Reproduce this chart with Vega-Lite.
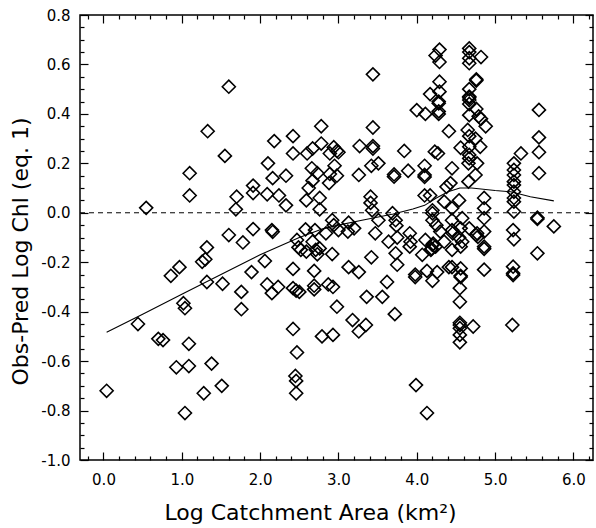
{
  "$schema": "https://vega.github.io/schema/vega-lite/v6.json",
  "width": 513,
  "height": 445,
  "autosize": "none",
  "padding": {"left": 80, "top": 15, "right": 3, "bottom": 68},
  "background": "white",
  "config": {"view": {"stroke": "black", "strokeWidth": 1.5}, "font": "DejaVu Sans"},
  "datasets": {
    "pts": [
      {"x":0.04,"y":-0.72},{"x":0.44,"y":-0.45},{"x":0.545,"y":0.02},{"x":0.70,"y":-0.51},{"x":0.76,"y":-0.515},
      {"x":0.86,"y":-0.255},{"x":0.93,"y":-0.625},{"x":0.97,"y":-0.22},{"x":1.02,"y":-0.366},{"x":1.04,"y":-0.386},
      {"x":1.04,"y":-0.81},{"x":1.09,"y":-0.53},{"x":1.09,"y":-0.62},{"x":1.10,"y":0.16},{"x":1.10,"y":0.07},
      {"x":1.26,"y":-0.198},{"x":1.30,"y":-0.188},{"x":1.32,"y":-0.28},{"x":1.32,"y":-0.14},{"x":1.28,"y":-0.73},
      {"x":1.33,"y":0.33},{"x":1.38,"y":-0.61},{"x":1.51,"y":-0.70},{"x":1.52,"y":-0.287},{"x":1.55,"y":0.23},
      {"x":1.60,"y":0.51},{"x":1.60,"y":-0.09},{"x":1.70,"y":0.065},{"x":1.69,"y":0.014},{"x":1.76,"y":-0.32},
      {"x":1.76,"y":-0.39},{"x":1.78,"y":-0.12},{"x":1.89,"y":-0.24},{"x":1.91,"y":0.11},{"x":1.91,"y":0.08},
      {"x":1.91,"y":-0.066},{"x":2.06,"y":-0.195},{"x":2.09,"y":-0.29},{"x":2.09,"y":0.075},{"x":2.10,"y":0.20},
      {"x":2.15,"y":-0.325},{"x":2.15,"y":-0.07},{"x":2.16,"y":-0.077},{"x":2.16,"y":0.14},{"x":2.18,"y":0.29},
      {"x":2.23,"y":-0.30},{"x":2.24,"y":0.07},{"x":2.33,"y":0.15},{"x":2.33,"y":0.03},{"x":2.42,"y":0.31},
      {"x":2.42,"y":0.24},{"x":2.42,"y":-0.227},{"x":2.42,"y":-0.305},{"x":2.46,"y":-0.315},{"x":2.50,"y":-0.32},
      {"x":2.42,"y":-0.47},{"x":2.47,"y":-0.565},{"x":2.45,"y":-0.66},{"x":2.46,"y":-0.68},{"x":2.46,"y":-0.73},
      {"x":2.47,"y":-0.11},{"x":2.49,"y":-0.14},{"x":2.52,"y":-0.15},{"x":2.59,"y":-0.157},{"x":2.58,"y":-0.067},
      {"x":2.59,"y":0.05},{"x":2.60,"y":0.24},{"x":2.62,"y":0.10},{"x":2.66,"y":0.18},{"x":2.67,"y":0.26},
      {"x":2.67,"y":0.13},{"x":2.67,"y":-0.117},{"x":2.69,"y":-0.235},{"x":2.69,"y":-0.295},{"x":2.69,"y":-0.31},
      {"x":2.70,"y":-0.07},{"x":2.71,"y":-0.15},{"x":2.73,"y":-0.168},{"x":2.73,"y":0.16},{"x":2.76,"y":0.06},
      {"x":2.76,"y":0.014},{"x":2.76,"y":-0.144},{"x":2.78,"y":0.35},{"x":2.78,"y":0.28},{"x":2.79,"y":-0.50},
      {"x":2.84,"y":-0.083},{"x":2.87,"y":-0.29},{"x":2.88,"y":0.12},{"x":2.89,"y":0.24},{"x":2.89,"y":0.157},
      {"x":2.92,"y":-0.03},{"x":2.92,"y":-0.167},{"x":2.93,"y":-0.30},{"x":2.93,"y":-0.494},{"x":2.94,"y":0.265},
      {"x":2.94,"y":-0.05},{"x":2.95,"y":0.19},{"x":2.98,"y":0.25},{"x":2.98,"y":0.15},{"x":2.98,"y":-0.38},
      {"x":3.00,"y":0.245},{"x":3.00,"y":-0.07},{"x":3.12,"y":-0.076},{"x":3.13,"y":-0.22},{"x":3.13,"y":-0.04},
      {"x":3.18,"y":-0.434},{"x":3.20,"y":-0.063},{"x":3.26,"y":0.153},{"x":3.26,"y":-0.24},{"x":3.26,"y":-0.48},
      {"x":3.27,"y":0.27},{"x":3.35,"y":-0.454},{"x":3.36,"y":-0.34},{"x":3.41,"y":0.065},{"x":3.41,"y":0.04},
      {"x":3.42,"y":0.19},{"x":3.42,"y":-0.18},{"x":3.43,"y":0.01},{"x":3.44,"y":0.56},{"x":3.44,"y":0.345},
      {"x":3.44,"y":0.27},{"x":3.44,"y":0.26},{"x":3.47,"y":-0.083},{"x":3.51,"y":0.20},{"x":3.51,"y":-0.03},
      {"x":3.56,"y":-0.34},{"x":3.62,"y":-0.28},{"x":3.64,"y":-0.117},{"x":3.69,"y":-0.002},{"x":3.71,"y":0.155},
      {"x":3.71,"y":0.146},{"x":3.72,"y":-0.41},{"x":3.73,"y":-0.03},{"x":3.73,"y":-0.164},{"x":3.74,"y":-0.052},
      {"x":3.75,"y":-0.10},{"x":3.75,"y":-0.21},{"x":3.84,"y":0.25},{"x":3.89,"y":0.17},{"x":3.91,"y":-0.137},
      {"x":3.92,"y":-0.117},{"x":3.91,"y":-0.083},{"x":3.98,"y":-0.26},{"x":3.98,"y":-0.25},{"x":3.99,"y":-0.697},
      {"x":4.00,"y":0.415},{"x":4.07,"y":-0.17},{"x":4.10,"y":0.19},{"x":4.10,"y":0.153},{"x":4.10,"y":0.145},
      {"x":4.10,"y":0.07},{"x":4.11,"y":0.40},{"x":4.11,"y":-0.11},{"x":4.13,"y":-0.235},{"x":4.13,"y":-0.81},
      {"x":4.17,"y":0.48},{"x":4.17,"y":0.07},{"x":4.18,"y":-0.15},{"x":4.19,"y":-0.145},{"x":4.20,"y":0.01},
      {"x":4.20,"y":-0.002},{"x":4.20,"y":-0.03},{"x":4.20,"y":-0.13},{"x":4.21,"y":-0.125},{"x":4.20,"y":-0.275},
      {"x":4.23,"y":0.247},{"x":4.24,"y":0.636},{"x":4.24,"y":-0.137},{"x":4.25,"y":-0.05},{"x":4.26,"y":-0.24},
      {"x":4.27,"y":0.24},{"x":4.28,"y":0.45},{"x":4.28,"y":0.443},{"x":4.28,"y":0.41},{"x":4.28,"y":0.40},
      {"x":4.29,"y":0.66},{"x":4.29,"y":0.61},{"x":4.29,"y":0.53},{"x":4.29,"y":0.49},{"x":4.30,"y":-0.076},
      {"x":4.35,"y":0.045},{"x":4.35,"y":-0.117},{"x":4.38,"y":0.105},{"x":4.41,"y":0.33},{"x":4.41,"y":-0.22},
      {"x":4.43,"y":0.12},{"x":4.45,"y":0.18},{"x":4.45,"y":0.018},{"x":4.45,"y":-0.03},{"x":4.45,"y":-0.07},
      {"x":4.46,"y":-0.083},{"x":4.45,"y":-0.15},{"x":4.45,"y":-0.22},{"x":4.54,"y":0.05},{"x":4.54,"y":-0.10},
      {"x":4.56,"y":0.263},{"x":4.56,"y":-0.063},{"x":4.56,"y":-0.137},{"x":4.56,"y":-0.225},{"x":4.56,"y":-0.26},
      {"x":4.56,"y":-0.255},{"x":4.55,"y":-0.305},{"x":4.55,"y":-0.36},{"x":4.55,"y":-0.454},{"x":4.55,"y":-0.445},
      {"x":4.55,"y":-0.467},{"x":4.55,"y":-0.494},{"x":4.55,"y":-0.524},{"x":4.58,"y":-0.022},{"x":4.58,"y":-0.117},
      {"x":4.67,"y":0.665},{"x":4.67,"y":0.65},{"x":4.67,"y":0.625},{"x":4.67,"y":0.605},{"x":4.67,"y":0.50},
      {"x":4.67,"y":0.47},{"x":4.67,"y":0.465},{"x":4.67,"y":0.456},{"x":4.67,"y":0.44},{"x":4.67,"y":0.395},
      {"x":4.65,"y":0.335},{"x":4.67,"y":0.31},{"x":4.67,"y":0.267},{"x":4.67,"y":0.234},{"x":4.67,"y":0.22},
      {"x":4.66,"y":0.20},{"x":4.66,"y":0.126},{"x":4.67,"y":-0.063},{"x":4.72,"y":-0.46},{"x":4.75,"y":0.30},
      {"x":4.75,"y":0.153},{"x":4.76,"y":0.54},{"x":4.76,"y":0.535},{"x":4.76,"y":0.42},{"x":4.77,"y":0.20},
      {"x":4.77,"y":-0.083},{"x":4.78,"y":-0.097},{"x":4.76,"y":-0.09},{"x":4.79,"y":0.39},{"x":4.81,"y":0.267},
      {"x":4.82,"y":0.63},{"x":4.82,"y":0.38},{"x":4.86,"y":0.06},{"x":4.86,"y":0.018},{"x":4.86,"y":-0.022},
      {"x":4.86,"y":-0.076},{"x":4.86,"y":-0.137},{"x":4.86,"y":-0.146},{"x":4.86,"y":-0.23},{"x":4.88,"y":0.35},
      {"x":5.22,"y":-0.454},{"x":5.23,"y":-0.218},{"x":5.23,"y":-0.245},{"x":5.23,"y":-0.252},{"x":5.23,"y":-0.07},
      {"x":5.24,"y":-0.107},{"x":5.24,"y":0.20},{"x":5.24,"y":0.173},{"x":5.24,"y":0.153},{"x":5.24,"y":0.126},
      {"x":5.24,"y":0.112},{"x":5.24,"y":0.085},{"x":5.24,"y":0.06},{"x":5.24,"y":0.045},{"x":5.24,"y":0.005},
      {"x":5.33,"y":0.24},{"x":5.56,"y":0.416},{"x":5.56,"y":0.305},{"x":5.56,"y":0.245},{"x":5.56,"y":0.16},
      {"x":5.54,"y":-0.02},{"x":5.54,"y":-0.025},{"x":5.54,"y":-0.164},{"x":5.75,"y":-0.055}
    ],
    "fit": [
      {"x":0.04,"y":-0.483},{"x":0.5,"y":-0.41},{"x":1.0,"y":-0.33},{"x":1.5,"y":-0.25},{"x":2.0,"y":-0.17},
      {"x":2.5,"y":-0.10},{"x":2.8,"y":-0.065},{"x":3.0,"y":-0.05},{"x":3.3,"y":-0.03},{"x":3.7,"y":-0.005},
      {"x":3.95,"y":0.015},{"x":4.1,"y":0.03},{"x":4.25,"y":0.06},{"x":4.4,"y":0.085},{"x":4.55,"y":0.10},
      {"x":4.7,"y":0.10},{"x":5.0,"y":0.09},{"x":5.2,"y":0.085},{"x":5.45,"y":0.065},{"x":5.75,"y":0.048}
    ],
    "zero": [{"x":-0.3,"y":0},{"x":6.25,"y":0}]
  },
  "resolve": {"axis": {"x": "independent", "y": "independent"}},
  "layer": [
    {
      "data": {"name": "pts"},
      "mark": {"type": "point", "shape": "diamond", "filled": false, "stroke": "black", "strokeWidth": 1.6, "size": 170, "opacity": 1},
      "encoding": {
        "x": {"field": "x", "type": "quantitative",
          "scale": {"domain": [-0.3, 6.25], "nice": false, "zero": false},
          "axis": {"orient": "bottom", "grid": false, "domain": false,
            "values": [-0.2,0,0.2,0.4,0.6,0.8,1,1.2,1.4,1.6,1.8,2,2.2,2.4,2.6,2.8,3,3.2,3.4,3.6,3.8,4,4.2,4.4,4.6,4.8,5,5.2,5.4,5.6,5.8,6,6.2],
            "labelExpr": "abs(datum.value - round(datum.value)) < 0.01 ? replace(format(datum.value, '.1f'), '−', '-') : ''",
            "tickSize": {"condition": {"test": "abs(datum.value - round(datum.value)) < 0.01", "value": -8}, "value": -4},
            "tickColor": "black", "tickWidth": 1.2,
            "labelFont": "DejaVu Sans", "labelFontSize": 15, "labelColor": "black", "labelPadding": 20, "labelFlush": false, "labelOverlap": false,
            "title": "Log Catchment Area (km²)", "titleFont": "DejaVu Sans", "titleFontSize": 22, "titleFontWeight": "normal", "titleColor": "black",
            "titleX": 230, "titleY": 59, "titleAlign": "center", "titleBaseline": "alphabetic"}},
        "y": {"field": "y", "type": "quantitative",
          "scale": {"domain": [-1.0, 0.8], "nice": false, "zero": false},
          "axis": {"orient": "left", "grid": false, "domain": false,
            "values": [-1,-0.95,-0.9,-0.85,-0.8,-0.75,-0.7,-0.65,-0.6,-0.55,-0.5,-0.45,-0.4,-0.35,-0.3,-0.25,-0.2,-0.15,-0.1,-0.05,0,0.05,0.1,0.15,0.2,0.25,0.3,0.35,0.4,0.45,0.5,0.55,0.6,0.65,0.7,0.75,0.8],
            "labelExpr": "abs(datum.value*5 - round(datum.value*5)) < 0.01 ? replace(format(datum.value, '.1f'), '−', '-') : ''",
            "tickSize": {"condition": {"test": "abs(datum.value*5 - round(datum.value*5)) < 0.01", "value": -8}, "value": -4},
            "tickColor": "black", "tickWidth": 1.2,
            "labelFont": "DejaVu Sans", "labelFontSize": 15, "labelColor": "black", "labelPadding": 18, "labelFlush": false, "labelOverlap": false,
            "title": "Obs-Pred Log Chl (eq. 1)", "titleFont": "DejaVu Sans", "titleFontSize": 22, "titleFontWeight": "normal", "titleColor": "black",
            "titleAngle": -90, "titleX": -53, "titleY": 236, "titleAlign": "center", "titleBaseline": "alphabetic"}}
      }
    },
    {
      "data": {"name": "fit"},
      "mark": {"type": "line", "color": "black", "strokeWidth": 1.1},
      "encoding": {
        "x": {"field": "x", "type": "quantitative", "axis": null},
        "y": {"field": "y", "type": "quantitative", "axis": null}
      }
    },
    {
      "data": {"name": "zero"},
      "mark": {"type": "line", "color": "black", "strokeWidth": 1, "strokeDash": [5, 4]},
      "encoding": {
        "x": {"field": "x", "type": "quantitative",
          "axis": {"orient": "top", "grid": false, "domain": false, "labels": false, "title": null,
            "values": [-0.2,0,0.2,0.4,0.6,0.8,1,1.2,1.4,1.6,1.8,2,2.2,2.4,2.6,2.8,3,3.2,3.4,3.6,3.8,4,4.2,4.4,4.6,4.8,5,5.2,5.4,5.6,5.8,6,6.2],
            "tickSize": {"condition": {"test": "abs(datum.value - round(datum.value)) < 0.01", "value": -8}, "value": -4},
            "tickColor": "black", "tickWidth": 1.2}},
        "y": {"field": "y", "type": "quantitative",
          "axis": {"orient": "right", "grid": false, "domain": false, "labels": false, "title": null,
            "values": [-1,-0.95,-0.9,-0.85,-0.8,-0.75,-0.7,-0.65,-0.6,-0.55,-0.5,-0.45,-0.4,-0.35,-0.3,-0.25,-0.2,-0.15,-0.1,-0.05,0,0.05,0.1,0.15,0.2,0.25,0.3,0.35,0.4,0.45,0.5,0.55,0.6,0.65,0.7,0.75,0.8],
            "tickSize": {"condition": {"test": "abs(datum.value*5 - round(datum.value*5)) < 0.01", "value": -8}, "value": -4},
            "tickColor": "black", "tickWidth": 1.2}}
      }
    }
  ]
}
